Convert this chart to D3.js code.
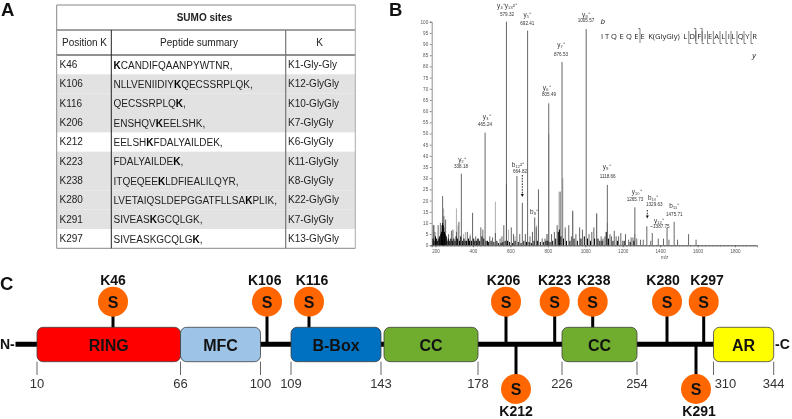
<!DOCTYPE html>
<html><head><meta charset="utf-8">
<script src="https://cdn.jsdelivr.net/npm/d3@7/dist/d3.min.js"></script>
<style>html,body{margin:0;padding:0;background:#fff}svg{display:block;font-family:"Liberation Sans",Arial,sans-serif}</style>
</head><body><svg id="c" width="792" height="419"><defs><filter id="soft" filterUnits="userSpaceOnUse" x="0" y="0" width="792" height="419"><feGaussianBlur stdDeviation="0.35"/></filter></defs></svg>
<script>
// ---------- Panel A data
const tableTitle = "SUMO sites";
const tableHeaders = ["Position K", "Peptide summary", "K"];
const positions = ["K46","K106","K116","K206","K212","K223","K238","K280","K291","K297"];
const peptides = ["|K|CANDIFQAANPYWTNR,","NLLVENIIDIY|K|QECSSRPLQK,","QECSSRPLQ|K|,","ENSHQV|K|EELSHK,","EELSH|K|FDALYAILDEK,","FDALYAILDE|K|,","ITQEQEE|K|LDFIEALILQYR,","LVETAIQSLDEPGGATFLLSA|K|PLIK,","SIVEAS|K|GCQLGK,","SIVEASKGCQLG|K|,"];
const modified = ["K1-Gly-Gly","K12-GlyGly","K10-GlyGly","K7-GlyGly","K6-GlyGly","K11-GlyGly","K8-GlyGly","K22-GlyGly","K7-GlyGly","K13-GlyGly"];
const shadedRows = [1,2,3,5,6,7,8];

// ---------- Panel B data
const mainMz = [190,197,214,226,238,245,254,270,285,293,312,325,338,370,385,398,415,430,442,453,465,490,505,520,545,555,565,579,579,605,617,635,650,664,680,692,705,718,730,738,750,770,785,795,805,820,835,850,866,876,893,912,926,933,950,970,985,1005,1020,1035,1046,1061,1085,1095,1105,1118,1132,1140,1155,1165,1178,1190,1200,1215,1232,1245,1255,1265,1275,1295,1310,1329,1350,1358,1390,1418,1437,1447,1475,1493,1552,1592];
const mainInt = [9,6,9,10,22,13,11.5,5,6.5,7,6,10.5,32,6,4,14.5,4,3,8,7,50.4,4,3.5,5.5,3,4,9,100,27.5,8,5,31,5,19,5,96,4,6,12.5,8,25,3,3,5,63.5,5,6,9,24,82,8,9,4,15.5,5,8,7,96.7,5,6,8,14.3,4,3,4,27,5,4,6.5,4,4,5.5,2,5,2.5,3.5,3.5,17,3,2.5,2.5,8.5,2,5.5,3,3,8,2.5,10.5,2.5,5,2.5];
const lightMz = [188,193,243,312,320,350,360,385,520,590,625,740,805,860,880,933,800,1061,1118,1265];
const lightInt = [9,9,16.5,16.5,9,5,6,5,19.5,7,4,9,50,24,30,15,5,14,10,5];
const baseMz = [186,192,200,206,212,218,222,228,232,235,238,241,244,248,252,258,262,268,276,282,290,298,304,310,318,328,335,345,352,358,366,376,382,392,404,410,420,426,436,448,458,470,478,484,497,512,528,536,550,560,572,585,596,612,625,642,657,672,686,700,712,726,744,760,778,790,800,812,826,842,856,862,870,884,900,918,940,958,977,995,1012,1028,1050,1068,1078,1090,1112,1124,1148,1172,1208,1240,1260];
const baseInt = [3,2,4,3,2,3,4,5,6,9,10,9,8,6,5,4,2,3,2,3,2,3,2,4,3,2,4,2,3,2,2,3,2,2,3,2,2,3,2,4,3,2,2,1.5,2,1.5,2,1,1,1.5,2,2,1.5,1,2,1.5,1,2,1.5,1.5,1,2,2,1.5,1.5,2,2,1.5,2,3,6,7,4,3,2,2,3,2,3,4,3,2,3,3,2,2,6,3,2,2,2,1.5,2];
const xTickValues = [200,400,600,800,1000,1200,1400,1600,1800];
const seqTokens = ["I","T","Q","E","Q","E","E","K(GlyGly)","L","D","F","I","E","A","L","I","L","Q","Y","R"];
const bCuts = [6,9,10];
const yCuts = [8,9,10,11,12,13,14,15,16,17,18];
const ionNames = ["y₄⁺y₁₃²⁺","y₅⁺","y₈⁺","y₇⁺","y₆⁺","y₃⁺","y₂⁺","b₁₂²⁺","b₈⁺","y₉⁺","y₁₀⁺","b₁₀⁺","y₁₂⁺","b₁₁⁺"];
const ionMasses = ["579.32","692.41","1005.57","876.53","805.49","465.24","338.18","664.82","","1118.66","1265.73","1329.63","~1387.75","1475.71"];

// ---------- Panel C data
const domains = ["RING","MFC","B-Box","CC","CC","AR"];
const domainStart = [10,66,109,144,226,310];
const domainEnd = [66,100,143,178,254,344];
const domainColors = ["#ff0000","#9dc3e6","#0070c0","#70ad2f","#70ad2f","#ffff00"];
const boundaryResidues = [10,66,100,109,143,178,226,254,310,344];
const siteResidues = [46,106,116,206,212,223,238,280,291,297];
const sitesBelow = [212,291];

// ---------- Layout (pixels)
const root = d3.select("#c");
const svg = root.append("g").attr("filter","url(#soft)");
const T = {l:56.7,c1:111.3,c2:285.7,r:355.3,top:5,h1:30,h2:55,bot:248.3};
const ionNameXY = [[507,5],[527.3,14.7],[586,14.7],[561,44.7],[546.7,87],[486.7,116.7],[462,159],[518,164.7],[534,211.7],[606.7,166],[636.7,191.3],[653.3,197.3],[659,220],[674.3,205.7]];
const ionMassXY = [[507,14],[527.3,23.3],[586,20.7],[561,54.7],[549,94],[485,124],[461,166.7],[520,171],[0,0],[607.7,176],[635,199],[654.3,204],[660,226.7],[674.3,214.7]];
const seqX = [602,607,614,621.7,629,636.3,642.7,664,685.3,692.3,699.3,705,710,716.7,723.3,728.7,733.3,740.7,747.3,754.7];

// ---------- Panel labels
[["A",1,16],["B",389,16],["C",0,290]].forEach(([t,x,y])=>root.append("text").attr("x",x).attr("y",y).attr("font-size",18.5).attr("font-weight","bold").attr("fill","#111").text(t));

// ---------- Panel A
const rowScale = d3.scaleBand().domain(d3.range(positions.length)).range([T.h2,T.bot]);
const gA = svg.append("g");
gA.selectAll("rect.s").data(shadedRows).join("rect").attr("x",T.l).attr("width",T.r-T.l)
  .attr("y",d=>rowScale(d)).attr("height",rowScale.bandwidth()).attr("fill","#e2e2e2");
const hline=(y,c)=>gA.append("line").attr("x1",T.l).attr("x2",T.r).attr("y1",y).attr("y2",y).attr("stroke",c).attr("stroke-width",1);
const vline=(x,y1,c,w)=>gA.append("line").attr("x1",x).attr("x2",x).attr("y1",y1).attr("y2",T.bot).attr("stroke",c).attr("stroke-width",w);
hline(T.top,"#888");hline(T.h1,"#444");hline(T.h2,"#222");hline(T.bot,"#888");
vline(T.l,T.top,"#888",1);vline(T.r,T.top,"#aaa",1);vline(T.c1,T.h1,"#222",1);vline(T.c2,T.h1,"#777",1.2);
const tA=(x,y,a)=>gA.append("text").attr("x",x).attr("y",y).attr("text-anchor",a).attr("dominant-baseline","central").attr("font-size",10).attr("fill","#222");
tA((T.l+T.r)/2-1.5,17.3,"middle").attr("font-weight","bold").text(tableTitle);
tA((T.l+T.c1)/2+.5,42,"middle").text(tableHeaders[0]);
tA((T.c1+T.c2)/2+0.5,42,"middle").text(tableHeaders[1]);
tA((T.c2+T.r)/2-1,42,"middle").text(tableHeaders[2]);
positions.forEach((p,i)=>{
  const y=rowScale(i)+rowScale.bandwidth()/2;
  tA(59.5,y,"start").text(p);
  const t=tA(113.5,y,"start");
  peptides[i].split("|").forEach((s,j)=>{ if(s) t.append("tspan").attr("font-weight",j===1?"bold":"normal").attr("fill",j===1?"#000":"#222").text(s); });
  tA(288,y,"start").text(modified[i]);
});

// ---------- Panel B
const x = d3.scaleLinear().domain([200,1800]).range([435.5,735]);
const y = d3.scaleLinear().domain([0,100]).range([245.3,21.7]);
const gB = svg.append("g").attr("class","spec");
const draw=(mz,it,col,w)=>gB.append("g").selectAll("line").data(mz.map((m,i)=>[m,it[i]])).join("line")
  .attr("x1",d=>x(d[0])).attr("x2",d=>x(d[0])).attr("y1",y(0)).attr("y2",d=>y(d[1])).attr("stroke",col).attr("stroke-width",w);
draw(lightMz,lightInt,"#b5b5b5",1.1);
draw(mainMz,mainInt,"#555",.9);
draw(baseMz,baseInt,"#000",1);
const axisX = x.copy().domain([x.invert(431.7),x.invert(757)]).range([431.7,757]);
const styleAxis=g=>{g.selectAll("path,line").attr("stroke","#444").attr("stroke-width",.6);g.selectAll("text").attr("font-size",4.6).attr("fill","#555").attr("font-family","Liberation Sans");};
svg.append("g").attr("transform",`translate(0,${y(0)})`).call(d3.axisBottom(axisX).tickValues(xTickValues).tickFormat(d3.format("d")).tickSize(2).tickPadding(2)).call(styleAxis);
svg.append("g").attr("transform",`translate(0,${y(0)})`).call(d3.axisBottom(axisX).ticks(80).tickSize(1).tickFormat("")).call(styleAxis);
svg.append("g").attr("transform",`translate(431.7,0)`).call(d3.axisLeft(y).tickValues(d3.range(0,101,5)).tickSize(2).tickPadding(1.5)).call(styleAxis);
svg.append("text").attr("x",664.7).attr("y",258.5).attr("text-anchor","middle").attr("font-size",4.6).attr("fill","#555").text("m/z");
ionNames.forEach((n,i)=>{
  svg.append("text").attr("x",ionNameXY[i][0]).attr("y",ionNameXY[i][1]).attr("text-anchor","middle").attr("dominant-baseline","central").attr("font-size",6.4).attr("fill","#333").text(n);
  if(ionMasses[i]) svg.append("text").attr("x",ionMassXY[i][0]).attr("y",ionMassXY[i][1]).attr("text-anchor","middle").attr("dominant-baseline","central").attr("font-size",4.6).attr("fill","#333").text(ionMasses[i]);
});
const arrow=(xa,y1,y2)=>{svg.append("line").attr("x1",xa).attr("x2",xa).attr("y1",y1).attr("y2",y2).attr("stroke","#111").attr("stroke-width",.9).attr("stroke-dasharray","1.6,1.2");
  svg.append("path").attr("d",`M${xa-1.5},${y2-1.5}L${xa+1.5},${y2-1.5}L${xa},${y2+1.5}Z`).attr("fill","#111");};
arrow(522.3,175,195.5);arrow(647.3,210,217);
// sequence
const seqScale = d3.scaleLinear().domain(d3.range(seqTokens.length)).range(seqX);
const seqG = svg.append("g");
seqTokens.forEach((t,i)=>seqG.append("text").attr("x",seqScale(i)).attr("y",36).attr("text-anchor","middle").attr("dominant-baseline","central").attr("font-size",7.6).attr("font-family","Open Sans").attr("fill","#222").text(t));
const cut=i=>i===6?640:(seqScale(i)+seqScale(i+1))/2;
bCuts.forEach(i=>seqG.append("path").attr("d",`M${cut(i)-1.8},28.5H${cut(i)}V${i===6?43:41}`).attr("fill","none").attr("stroke","#333").attr("stroke-width",.6));
yCuts.forEach(i=>seqG.append("path").attr("d",`M${cut(i)},31V43.5H${cut(i)+2}`).attr("fill","none").attr("stroke","#333").attr("stroke-width",.6));
seqG.append("text").attr("x",602.7).attr("y",20).attr("text-anchor","middle").attr("dominant-baseline","central").attr("font-size",8).attr("font-style","italic").attr("font-family","Open Sans").attr("fill","#222").text("b");
seqG.append("text").attr("x",754).attr("y",54).attr("text-anchor","middle").attr("dominant-baseline","central").attr("font-size",8).attr("font-style","italic").attr("font-family","Open Sans").attr("fill","#222").text("y");

// ---------- Panel C
const knotsRes=[10,46,66,100,106,109,116,143,144,178,206,212,223,226,238,254,280,291,297,310,344];
const knotsPx =[37,113,180.5,260.5,267,291,309,381,384,478,506,516,554.7,562,592.7,637,667,696,703.7,713.5,773.7];
const px = d3.scaleLinear().domain(knotsRes).range(knotsPx);
const gC = root.append("g");
const midY=344.3, boxT=327.3, boxB=361.7, upY=301.7, downY=389, R=15;
gC.append("line").attr("x1",15.5).attr("x2",px(310)).attr("y1",midY).attr("y2",midY).attr("stroke","#000").attr("stroke-width",5);
siteResidues.forEach(s=>{
  const below=sitesBelow.includes(s);
  gC.append("line").attr("x1",px(s)).attr("x2",px(s)).attr("y1",midY).attr("y2",below?downY:upY).attr("stroke","#000").attr("stroke-width",3);
});
boundaryResidues.forEach(r=>gC.append("line").attr("x1",px(r)).attr("x2",px(r)).attr("y1",boxB).attr("y2",375).attr("stroke","#555").attr("stroke-width",.9));
gC.selectAll("rect.d").data(domains).join("rect").attr("x",(d,i)=>px(domainStart[i])).attr("y",boxT)
  .attr("width",(d,i)=>px(domainEnd[i])-px(domainStart[i])).attr("height",boxB-boxT).attr("rx",6)
  .attr("fill",(d,i)=>domainColors[i]).attr("stroke","#404040").attr("stroke-width",.8);
domains.forEach((d,i)=>gC.append("text").attr("x",(px(domainStart[i])+px(domainEnd[i]))/2).attr("y",345.3).attr("text-anchor","middle").attr("dominant-baseline","central").attr("font-size",16).attr("font-weight","bold").attr("fill","#111").text(d));
const tickOff={310:12};
boundaryResidues.forEach(r=>gC.append("text").attr("x",px(r)+(tickOff[r]||0)).attr("y",383.5).attr("text-anchor","middle").attr("dominant-baseline","central").attr("font-size",13).attr("fill","#333").text(r));
const labOff={106:-2.3,116:3,206:-2.5,238:1,280:-4,291:3,297:3.3};
siteResidues.forEach(s=>{
  const below=sitesBelow.includes(s), cy=below?downY:upY;
  gC.append("circle").attr("cx",px(s)).attr("cy",cy).attr("r",R).attr("fill","#ff6600");
  gC.append("text").attr("x",px(s)).attr("y",cy+.5).attr("text-anchor","middle").attr("dominant-baseline","central").attr("font-size",16).attr("font-weight","bold").attr("fill","#111").text("S");
  gC.append("text").attr("x",px(s)+(labOff[s]||0)).attr("y",below?410.8:279.8).attr("text-anchor","middle").attr("dominant-baseline","central").attr("font-size",14).attr("font-weight","bold").attr("fill","#111").text("K"+s);
});
gC.append("text").attr("x",0).attr("y",344).attr("dominant-baseline","central").attr("font-size",14).attr("font-weight","bold").attr("fill","#111").text("N-");
gC.append("text").attr("x",775).attr("y",344).attr("dominant-baseline","central").attr("font-size",14).attr("font-weight","bold").attr("fill","#111").text("-C");
</script></body></html>
